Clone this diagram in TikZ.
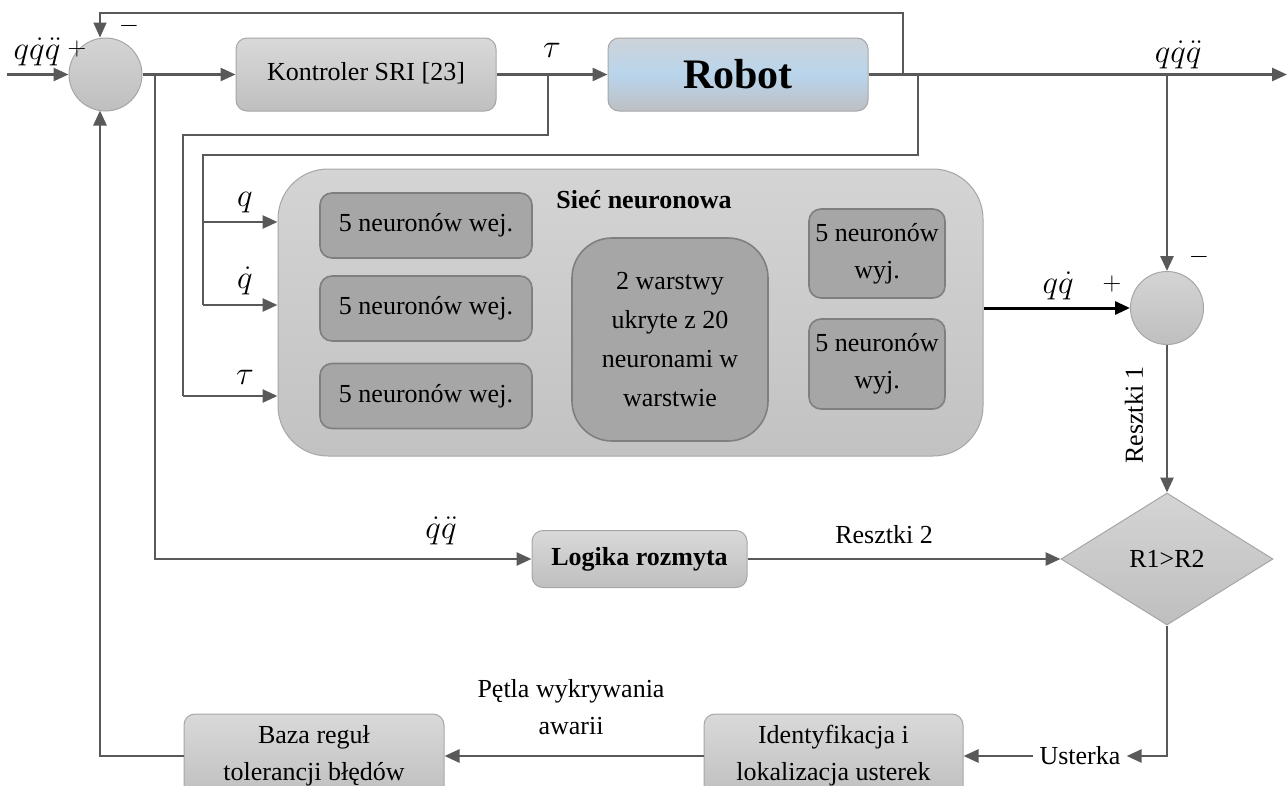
\RequirePackage{fix-cm}
\documentclass[tikz,border=0pt]{standalone}
\usepackage{fontspec}
\setmainfont{Liberation Serif}
\usetikzlibrary{arrows.meta,shapes.geometric,calc}

\definecolor{wirec}{HTML}{595959}
\definecolor{boxedge}{HTML}{A6A6A6}
\definecolor{boxtop}{HTML}{D9D9D9}
\definecolor{boxbot}{HTML}{BFBFBF}
\definecolor{nntop}{HTML}{D4D4D4}
\definecolor{nnbot}{HTML}{C2C2C2}
\definecolor{innerfill}{HTML}{A6A6A6}
\definecolor{inneredge}{HTML}{7F7F7F}
\definecolor{robtop}{HTML}{CDD3D9}
\definecolor{robmid}{HTML}{B9D5EC}
\definecolor{robbot}{HTML}{BEBFC3}

\newcommand\fsz{\fontsize{26}{37}\selectfont}
\newcommand\msz{\fontsize{33}{40}\selectfont}

\tikzset{
  wire/.style={draw=wirec, line width=2.7pt},
  thinwire/.style={draw=wirec, line width=1.9pt},
  arr/.style={wire, -{Triangle[length=15pt,width=13pt]}},
  thinarr/.style={thinwire, -{Triangle[length=15pt,width=13pt]}},
  block/.style={draw=boxedge, line width=1pt, rounded corners=11pt,
    top color=boxtop, bottom color=boxbot, font=\fsz, align=center,
    inner sep=0pt},
  inner/.style={draw=inneredge, line width=1.6pt, rounded corners=12pt,
    fill=innerfill, font=\fsz, align=center, inner sep=0pt},
  summer/.style={circle, draw=boxedge, line width=1pt, minimum size=73pt,
    inner sep=0pt, top color=nntop, bottom color=boxbot},
  lbl/.style={font=\fsz, inner sep=0pt},
  mlbl/.style={font=\msz, inner sep=0pt}
}

\begin{document}
\begin{tikzpicture}[x=1pt,y=-1pt]
\useasboundingbox (0,0) rectangle (1287,785);

% blocks
\node[summer] (sum1) at (105.5,74.5) {};
\node[block, minimum width=260pt, minimum height=73pt] (ctrl) at (366,74.5)
      {\raisebox{7pt}{Kontroler SRI [23]}};
\node[block, top color=robtop, bottom color=robbot, middle color=robmid,
      minimum width=260pt, minimum height=73pt, font=\fontsize{42}{50}\selectfont\bfseries]
      (robot) at (738,74.5) {Robot};

% neural network group
\node[draw=boxedge, line width=1pt, rounded corners=50pt, top color=nntop, bottom color=nnbot,
      minimum width=705pt, minimum height=287pt] (nn) at (630.5,312.5) {};
\node[lbl, font=\fsz\bfseries] (nntitle) at (644,200) {Sieć neuronowa};
\node[inner, minimum width=212pt, minimum height=65pt] (in1) at (426,225.5) {5 neuronów wej.};
\node[inner, minimum width=212pt, minimum height=65pt] (in2) at (426,308.5) {5 neuronów wej.};
\node[inner, minimum width=212pt, minimum height=65pt] (in3) at (426,396) {5 neuronów wej.};
\node[inner, rounded corners=40pt, minimum width=196pt, minimum height=203pt,
      font=\fontsize{26}{39.3}\selectfont] (hid) at (670,339.5)
      {2 warstwy\\ukryte z 20\\neuronami w\\warstwie};
\node[inner, minimum width=136pt, minimum height=89pt] (out1) at (877,253.5) {5 neuronów\\wyj.};
\node[inner, minimum width=136pt, minimum height=90pt] (out2) at (877,364) {5 neuronów\\wyj.};

\node[summer] (sum2) at (1167,308) {};
\node[diamond, draw=boxedge, line width=1pt, top color=nntop, bottom color=boxbot,
      minimum width=212pt, minimum height=132pt, inner sep=0pt, font=\fsz]
      (dec) at (1167,559) {R1>R2};
\node[block, font=\fsz\bfseries, minimum width=215pt, minimum height=57pt] (logic) at (639.5,559) {Logika rozmyta};
\node[block, minimum width=259pt, minimum height=84pt] (ident) at (833.5,756) {Identyfikacja i\\lokalizacja usterek};
\node[block, minimum width=260pt, minimum height=84pt] (baza) at (314,756) {Baza reguł\\tolerancji błędów};
\node[lbl, inner sep=6pt] (ust) at (1080,756) {Usterka};

% junctions and free ends
\coordinate (in) at (7,74.5);
\coordinate (out) at (1287,74.5);
\coordinate (fbA) at (903,74.5);
\coordinate (fbB) at (100,13);
\coordinate (jR) at (918,74.5);
\coordinate (jRb) at (203,155);
\coordinate (jq) at (203,222);
\coordinate (jqd) at (203,305);
\coordinate (jt) at (548,74.5);
\coordinate (jtl) at (183,135);
\coordinate (jtd) at (183,396);
\coordinate (js) at (155,74.5);
\coordinate (jo) at (1167,74.5);
\coordinate (jb) at (100,110.5);

% main forward path
\draw[arr] (in) -- (sum1.west);
\draw[arr] (sum1.east) -- (ctrl.west);
\draw[arr] (ctrl.east) -- (robot.west);
\draw[arr] (robot.east) -- (out);

% feedback of robot output
\draw[thinarr] (fbA) |- (fbB) -- (fbB |- sum1.north);

% inputs of the network
\draw[thinwire] (jR) |- (jRb) -- (jqd);
\draw[arr] (jq) -- (jq -| nn.west);
\draw[arr] (jqd) -- (jqd -| nn.west);
\draw[thinwire] (jt) |- (jtl) -- (jtd);
\draw[arr] (jtd) -- (jtd -| nn.west);

% fuzzy logic branch
\draw[arr] (js) |- (logic.west);

% residual 1
\draw[arr] (jo) -- (sum2.north);
\draw[line width=3pt, -{Triangle[length=15pt,width=13pt]}] (sum2.west -| nn.east) -- (sum2.west);
\draw[arr] (sum2.south) -- (dec.north);

% residual 2 and fault handling
\draw[arr] (logic.east) -- (dec.west);
\draw[arr] (dec.south) |- (ust.east);
\draw[arr] (ust.west) -- (ident.east);
\draw[arr] (ident.west) -- (baza.east);
\draw[arr] (baza.west) -| (jb);

% signal labels
\node[mlbl] (l1) at (37,52) {$q\dot{q}\ddot{q}$};
\node[lbl] (l1p) at (77,49) {$+$};
\node[lbl] (l1m) at (129,26) {$-$};
\node[mlbl] (l2) at (552,50) {$\tau$};
\node[mlbl] (l3) at (1178,55) {$q\dot{q}\ddot{q}$};
\node[mlbl] (l4) at (245,203) {$q$};
\node[mlbl] (l5) at (245,281) {$\dot{q}$};
\node[mlbl] (l6) at (245,377) {$\tau$};
\node[mlbl] (l7) at (441,531) {$\dot{q}\ddot{q}$};
\node[mlbl] (l8) at (1058,286) {$q\dot{q}$};
\node[lbl] (l8p) at (1112,284) {$+$};
\node[lbl] (l8m) at (1199,257) {$-$};
\node[lbl, rotate=90] (l9) at (1134,415) {Resztki 1};
\node[lbl] (l10) at (884,535) {Resztki 2};
\node[lbl, align=center] (l11) at (571,707) {Pętla wykrywania\\awarii};
\end{tikzpicture}
\end{document}
